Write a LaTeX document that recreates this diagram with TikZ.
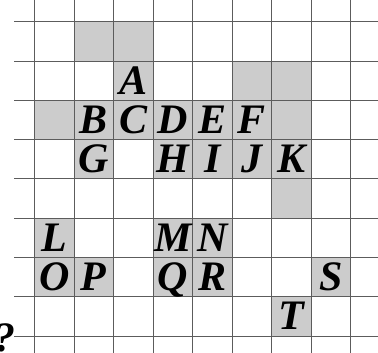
\documentclass[tikz,border=0pt]{standalone}
\usepackage{fontspec}
\setmainfont{Liberation Serif}
\definecolor{shade}{gray}{0.8}
\definecolor{gridline}{gray}{0.36}
\begin{document}
\begin{tikzpicture}[x=1pt,y=-1pt,
  cellfill/.style={fill=shade},
  gridstroke/.style={draw=gridline,line width=0.9pt},
  letter/.style={anchor=base,inner sep=0pt,font=\bfseries\itshape\fontsize{42}{42}\selectfont}]
\useasboundingbox (0,0) rectangle (378,353);
\clip (0,0) rectangle (378,353);
% shaded cells
\foreach \c/\r in {1/0,2/0,2/1,5/1,6/1,0/2,1/2,2/2,3/2,4/2,5/2,6/2,1/3,3/3,4/3,5/3,6/3,6/4,0/5,3/5,4/5,0/6,1/6,3/6,4/6,7/6,6/7}
  \fill[cellfill] ({34.5+39.5*\c},{21.7+39.3*\r}) rectangle ++(39.5,39.3);
% grid
\foreach \k in {0,...,8} {
  \draw[gridstroke] ({34.5+39.5*\k},0) -- ({34.5+39.5*\k},353);
  \draw[gridstroke] (14,{21.7+39.3*\k}) -- (378,{21.7+39.3*\k});
}
% letters
\foreach \c/\r/\t in {2/1/A,1/2/B,2/2/C,3/2/D,4/2/E,5/2/F,1/3/G,3/3/H,4/3/I,5/3/J,6/3/K,0/5/L,3/5/M,4/5/N,0/6/O,1/6/P,3/6/Q,4/6/R,7/6/S,6/7/T}
  \node[letter] (n\t) at ({34.5+39.5*(\c+0.5)},{21.7+39.3*(\r+0.5)+13.5}) {\t};
\node[letter,anchor=base east] (qm) at (16,351) {?};
\end{tikzpicture}
\end{document}
